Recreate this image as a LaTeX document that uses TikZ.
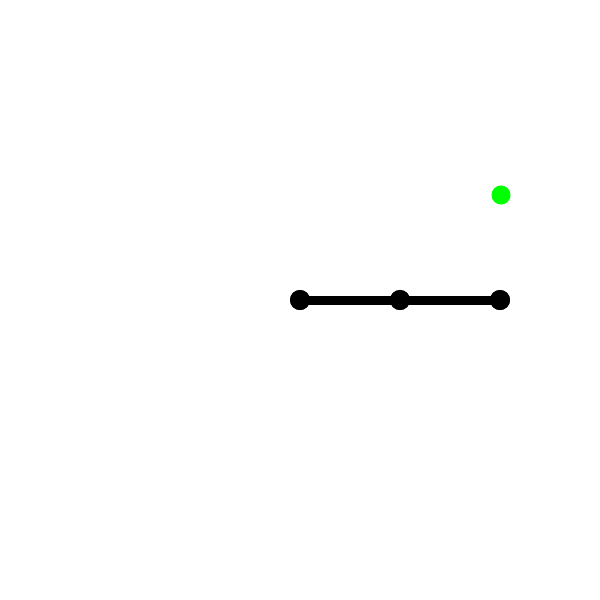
\documentclass[tikz,border=0pt]{standalone}
\begin{document}
\begin{tikzpicture}[x=0.01cm,y=-0.01cm,
  blackdot/.style={circle,fill=black,inner sep=0pt,minimum size=0.2cm},
  greendot/.style={circle,fill=green,inner sep=0pt,minimum size=0.19cm},
  thickline/.style={line width=0.09cm}]
\useasboundingbox (0,0) rectangle (600,600);
\node[blackdot] (a) at (300,300) {};
\node[blackdot] (b) at (400,300) {};
\node[blackdot] (c) at (500,300) {};
\node[greendot] (g) at (501,195) {};
\draw[thickline] (a.center) -- (b.center) -- (c.center);
\node[blackdot] at (a) {};
\node[blackdot] at (b) {};
\node[blackdot] at (c) {};
\end{tikzpicture}
\end{document}
